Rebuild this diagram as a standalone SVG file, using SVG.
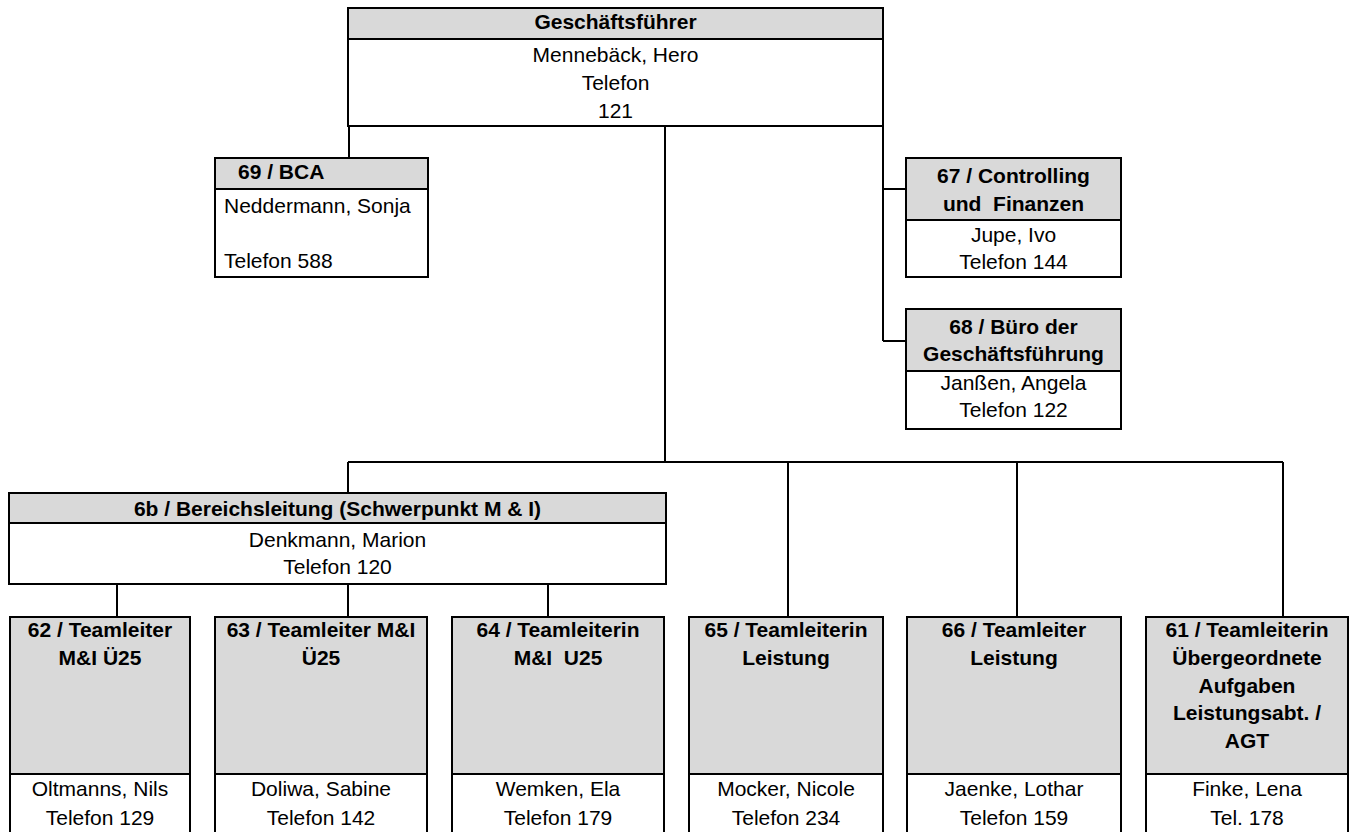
<svg xmlns="http://www.w3.org/2000/svg" width="1354" height="832" viewBox="0 0 1354 832">
<style>
.bg{fill:#ffffff}
.hd{fill:#d9d9d9;stroke:#000;stroke-width:2}
.bd{fill:#ffffff;stroke:#000;stroke-width:2}
.ln{fill:none;stroke:#000;stroke-width:2}
text{font-family:"Liberation Sans",Arial,sans-serif;font-size:21px;fill:#000}
.b{font-weight:bold}
.c{text-anchor:middle}
</style>
<rect class="bg" x="0" y="0" width="1354" height="832"/>
<g id="connectors">
<path class="ln" d="M349,126 V158"/>
<path class="ln" d="M665,126 V462"/>
<path class="ln" d="M883,126 V341 M883,189 H906 M883,341 H906"/>
<path class="ln" d="M348,462 H1283 M348,462 V493"/>
<path class="ln" d="M788,462 V617 M1017,462 V617 M1283,462 V617"/>
<path class="ln" d="M117,584 V617 M348,584 V617 M548,584 V617"/>
</g>
<g id="gf">
<rect class="bd" x="348" y="39" width="535" height="87"/>
<rect class="hd" x="348" y="8" width="535" height="31"/>
<text class="b c" x="615.5" y="28.5">Geschäftsführer</text>
<text class="c" x="615.5" y="62">Mennebäck, Hero</text>
<text class="c" x="615.5" y="90">Telefon</text>
<text class="c" x="615.5" y="118">121</text>
</g>
<g id="n69">
<rect class="bd" x="215" y="189" width="213" height="88"/>
<rect class="hd" x="215" y="158" width="213" height="31"/>
<text class="b" x="238" y="179">69 / BCA</text>
<text x="224" y="213">Neddermann, Sonja</text>
<text x="224" y="268">Telefon 588</text>
</g>
<g id="n67">
<rect class="bd" x="906" y="220" width="215" height="57"/>
<rect class="hd" x="906" y="158" width="215" height="62"/>
<text class="b c" x="1013.5" y="183">67 / Controlling</text>
<text class="b c" x="1013.5" y="211" style="white-space:pre">und  Finanzen</text>
<text class="c" x="1013.5" y="242">Jupe, Ivo</text>
<text class="c" x="1013.5" y="269">Telefon 144</text>
</g>
<g id="n68">
<rect class="bd" x="906" y="371" width="215" height="58"/>
<rect class="hd" x="906" y="309" width="215" height="62"/>
<text class="b c" x="1013.5" y="334">68 / Büro der</text>
<text class="b c" x="1013.5" y="361">Geschäftsführung</text>
<text class="c" x="1013.5" y="390">Janßen, Angela</text>
<text class="c" x="1013.5" y="417">Telefon 122</text>
</g>
<g id="n6b">
<rect class="bd" x="9" y="523" width="657" height="61"/>
<rect class="hd" x="9" y="493" width="657" height="30"/>
<text class="b c" x="337.5" y="515.5">6b / Bereichsleitung (Schwerpunkt M &amp; I)</text>
<text class="c" x="337.5" y="547">Denkmann, Marion</text>
<text class="c" x="337.5" y="574">Telefon 120</text>
</g>
<g id="n62">
<rect class="bd" x="10" y="774" width="180" height="70"/>
<rect class="hd" x="10" y="617" width="180" height="157"/>
<text class="b c" x="100" y="637">62 / Teamleiter</text>
<text class="b c" x="100" y="665">M&amp;I Ü25</text>
<text class="c" x="100" y="796">Oltmanns, Nils</text>
<text class="c" x="100" y="825">Telefon 129</text>
</g>
<g id="n63">
<rect class="bd" x="215" y="774" width="212" height="70"/>
<rect class="hd" x="215" y="617" width="212" height="157"/>
<text class="b c" x="321" y="637">63 / Teamleiter M&amp;I</text>
<text class="b c" x="321" y="665">Ü25</text>
<text class="c" x="321" y="796">Doliwa, Sabine</text>
<text class="c" x="321" y="825">Telefon 142</text>
</g>
<g id="n64">
<rect class="bd" x="452" y="774" width="212" height="70"/>
<rect class="hd" x="452" y="617" width="212" height="157"/>
<text class="b c" x="558" y="637">64 / Teamleiterin</text>
<text class="b c" x="558" y="665" style="white-space:pre">M&amp;I  U25</text>
<text class="c" x="558" y="796">Wemken, Ela</text>
<text class="c" x="558" y="825">Telefon 179</text>
</g>
<g id="n65">
<rect class="bd" x="689" y="774" width="194" height="70"/>
<rect class="hd" x="689" y="617" width="194" height="157"/>
<text class="b c" x="786" y="637">65 / Teamleiterin</text>
<text class="b c" x="786" y="665">Leistung</text>
<text class="c" x="786" y="796">Mocker, Nicole</text>
<text class="c" x="786" y="825">Telefon 234</text>
</g>
<g id="n66">
<rect class="bd" x="907" y="774" width="214" height="70"/>
<rect class="hd" x="907" y="617" width="214" height="157"/>
<text class="b c" x="1014" y="637">66 / Teamleiter</text>
<text class="b c" x="1014" y="665">Leistung</text>
<text class="c" x="1014" y="796">Jaenke, Lothar</text>
<text class="c" x="1014" y="825">Telefon 159</text>
</g>
<g id="n61">
<rect class="bd" x="1146" y="774" width="202" height="70"/>
<rect class="hd" x="1146" y="617" width="202" height="157"/>
<text class="b c" x="1247" y="637">61 / Teamleiterin</text>
<text class="b c" x="1247" y="665">Übergeordnete</text>
<text class="b c" x="1247" y="693">Aufgaben</text>
<text class="b c" x="1247" y="720">Leistungsabt. /</text>
<text class="b c" x="1247" y="748">AGT</text>
<text class="c" x="1247" y="796">Finke, Lena</text>
<text class="c" x="1247" y="825">Tel. 178</text>
</g>
</svg>
